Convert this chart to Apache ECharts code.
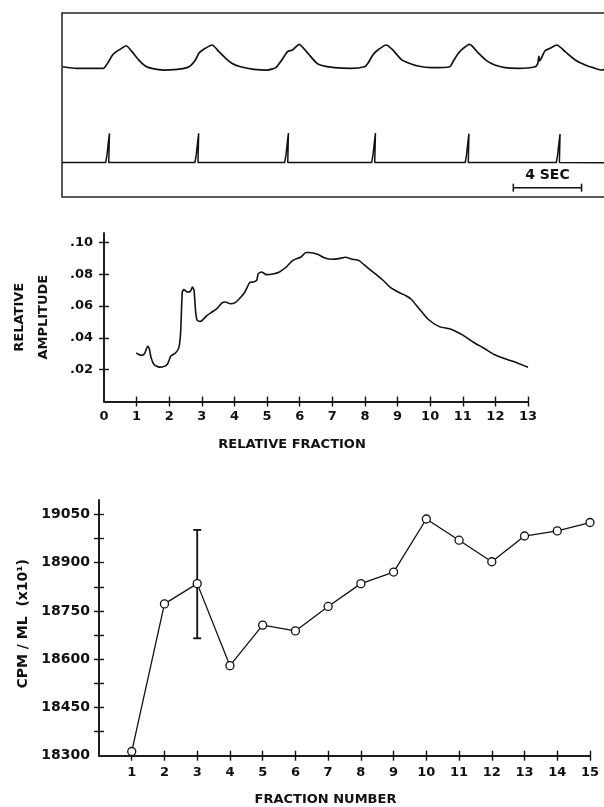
<!DOCTYPE html>
<html>
<head>
<meta charset="utf-8">
<script src="https://cdn.jsdelivr.net/npm/echarts@6/dist/echarts.min.js"></script>
<style>
  html, body { margin: 0; padding: 0; background: #fff; }
  #chart { width: 604px; height: 807px; }
</style>
</head>
<body>
<div id="chart"></div>
<script>
// ---- data ----

// top panel: recorder traces, x in seconds, y in chart-percent of the box
const upperTrace = [
  [0.04, 70.8], [0.86, 69.9], [2.43, 69.9], [2.53, 70.8], [2.73, 73.6], [2.92, 76.6], [3.12, 78.6],
  [3.41, 80.3], [3.76, 82.2], [4.10, 79.0], [4.49, 74.5], [4.88, 71.2], [5.27, 69.9], [5.96, 69.0],
  [6.75, 69.4], [7.33, 70.3], [7.57, 71.7], [7.82, 74.5], [8.02, 78.1], [8.31, 80.3], [8.80, 82.6],
  [9.20, 79.0], [9.59, 75.4], [9.98, 72.6], [10.47, 70.8], [11.25, 69.4], [12.04, 69.0], [12.53, 70.3],
  [12.82, 73.6], [13.22, 79.0], [13.51, 79.9], [13.90, 83.0], [14.39, 78.3], [14.88, 73.2], [15.18, 71.6],
  [15.96, 70.3], [16.94, 69.9], [17.73, 70.8], [17.92, 72.6], [18.22, 77.2], [18.51, 79.9], [19.00, 82.6],
  [19.39, 79.9], [19.88, 74.8], [20.27, 73.0], [20.86, 71.2], [21.65, 70.3], [22.73, 70.8], [22.92, 73.6],
  [23.12, 76.6], [23.41, 79.9], [23.90, 83.0], [24.39, 78.3], [24.88, 74.1], [25.37, 71.7], [25.96, 70.3],
  [26.75, 69.9], [27.73, 70.8], [27.88, 72.5], [27.95, 76.5], [28.00, 74.0], [28.31, 79.5], [28.61, 80.8],
  [29.00, 82.6], [29.49, 79.0], [30.08, 74.5], [30.67, 71.7], [31.25, 69.9], [31.65, 69.0], [31.88, 69.9]
];

const pulseTrace = [
  [0, 18.7],
  [2.56, 18.7], [2.64, 23], [2.72, 30], [2.78, 34.6], [2.74, 18.7],
  [7.79, 18.7], [7.87, 23], [7.95, 30], [8.01, 34.6], [7.97, 18.7],
  [13.05, 18.7], [13.13, 23], [13.21, 30], [13.27, 34.8], [13.23, 18.7],
  [18.15, 18.7], [18.23, 23], [18.31, 30], [18.37, 34.8], [18.33, 18.7],
  [23.63, 18.7], [23.71, 23], [23.79, 30], [23.85, 34.4], [23.81, 18.7],
  [28.97, 18.7], [29.05, 23], [29.13, 30], [29.19, 34.2], [29.15, 18.7],
  [32, 18.6]
];

// 4 sec scale bar: [from, to, level]
const scaleBar = [[26.45, 30.45, 5.05]];
const scaleBarLabel = '4 SEC';

// middle panel: relative amplitude vs relative fraction
const amplitude = [
  [0.99, 0.0305], [1.14, 0.029], [1.24, 0.030], [1.34, 0.0347], [1.39, 0.033], [1.44, 0.0279],
  [1.54, 0.0231], [1.70, 0.0216], [1.85, 0.0221], [1.95, 0.0237], [2.05, 0.0286], [2.20, 0.0307],
  [2.30, 0.0342], [2.35, 0.0437], [2.40, 0.0689], [2.45, 0.0704], [2.55, 0.0689], [2.65, 0.0693],
  [2.71, 0.0720], [2.76, 0.0700], [2.81, 0.0563], [2.86, 0.0510], [2.96, 0.0504], [3.16, 0.0542],
  [3.31, 0.0563], [3.46, 0.0584], [3.62, 0.0620], [3.72, 0.0626], [3.87, 0.0615], [4.02, 0.0622],
  [4.17, 0.0651], [4.32, 0.0689], [4.47, 0.0748], [4.58, 0.0752], [4.68, 0.0762], [4.73, 0.0804],
  [4.83, 0.0815], [4.98, 0.0798], [5.18, 0.0802], [5.38, 0.0815], [5.59, 0.0846], [5.79, 0.0888],
  [6.04, 0.0909], [6.19, 0.0937], [6.29, 0.0937], [6.55, 0.0926], [6.75, 0.0905], [7.00, 0.0895],
  [7.20, 0.0899], [7.40, 0.0907], [7.61, 0.0895], [7.81, 0.0888], [8.06, 0.0846], [8.31, 0.0804],
  [8.52, 0.0769], [8.77, 0.0720], [9.02, 0.0689], [9.27, 0.0664], [9.42, 0.0643], [9.63, 0.0592],
  [9.93, 0.0519], [10.28, 0.0471], [10.64, 0.0455], [10.99, 0.0419], [11.34, 0.0371], [11.65, 0.0335],
  [11.95, 0.0297], [12.25, 0.0272], [12.56, 0.0251], [13.00, 0.0215]
];
const ampTicks = [0.02, 0.04, 0.06, 0.08, 0.10];
const fracTicks = [1, 2, 3, 4, 5, 6, 7, 8, 9, 10, 11, 12, 13];
const fracLabels = [0, 1, 2, 3, 4, 5, 6, 7, 8, 9, 10, 11, 12, 13];

// bottom panel: CPM/ML per fraction
const fractions = [1, 2, 3, 4, 5, 6, 7, 8, 9, 10, 11, 12, 13, 14, 15];
const cpm = [18313, 18772, 18835, 18580, 18706, 18688, 18764, 18835, 18871, 19036, 18970, 18903, 18983, 18999, 19025];
// error bar on fraction 3: [fraction, low, high]
const errBars = [[3, 18665, 19002]];
const cpmLabels = [18300, 18450, 18600, 18750, 18900, 19050];
const cpmTicks = [18375, 18450, 18525, 18600, 18675, 18750, 18825, 18900, 18975, 19050];

// ---- chart ----
const INK = '#111';
const FONT = 'DejaVu Sans';

const chart = echarts.init(document.getElementById('chart'));

// twin axis that only carries the inner half of the crossing ticks
// (ticks vanish when its axisLine is off, so the line is drawn on top of the main one)
function tickAxis(extra, ticks) {
  return Object.assign({
    type: 'value',
    axisLine: { show: true, onZero: false, lineStyle: { color: INK, width: 1.5 } },
    axisLabel: { show: false },
    splitLine: { show: false },
    axisTick: { show: true, inside: true, length: 5, customValues: ticks, lineStyle: { color: INK, width: 1.4 } }
  }, extra);
}

const nameStyle = { fontFamily: FONT, fontWeight: 'bold', fontSize: 13, color: INK };
const labelStyle = { fontFamily: FONT, fontWeight: 'bold', fontSize: 13, color: INK };

const option = {
  animation: false,
  backgroundColor: '#fff',
  grid: [
    // the recorder box runs off the right edge of the page
    { left: 62, top: 13, width: 546, height: 184, show: true, borderColor: '#222', borderWidth: 1.5, outerBoundsMode: 'none' },
    { left: 99, top: 233, width: 429, height: 168.5 },
    { left: 99, top: 500, width: 491, height: 255.7 }
  ],
  xAxis: [
    { gridIndex: 0, type: 'value', min: 0, max: 32, show: false },
    {
      gridIndex: 1, type: 'value', min: 0, max: 13, position: 'bottom',
      axisLine: { show: true, onZero: false, lineStyle: { color: INK, width: 1.5 } },
      axisTick: { show: true, length: 5, customValues: fracTicks, lineStyle: { color: INK, width: 1.4 } },
      axisLabel: Object.assign({ customValues: fracLabels, margin: 9 }, labelStyle),
      splitLine: { show: false },
      name: 'RELATIVE FRACTION', nameLocation: 'middle', nameGap: 37,
      nameTextStyle: Object.assign({ padding: [0, 48, 0, 0] }, nameStyle)
    },
    tickAxis({ gridIndex: 1, min: 0, max: 13, position: 'bottom' }, fracTicks),
    {
      gridIndex: 2, type: 'value', min: 0, max: 15, position: 'bottom',
      axisLine: { show: true, onZero: false, lineStyle: { color: INK, width: 1.5 } },
      axisTick: { show: true, length: 5, customValues: fractions, lineStyle: { color: INK, width: 1.4 } },
      axisLabel: Object.assign({ customValues: fractions, margin: 10 }, labelStyle),
      splitLine: { show: false },
      name: 'FRACTION NUMBER', nameLocation: 'middle', nameGap: 37,
      nameTextStyle: Object.assign({ padding: [0, 38, 0, 0] }, nameStyle)
    },
    tickAxis({ gridIndex: 2, min: 0, max: 15, position: 'bottom' }, fractions)
  ],
  yAxis: [
    { gridIndex: 0, type: 'value', min: 0, max: 100, show: false },
    {
      gridIndex: 1, type: 'value', min: 0, max: 0.106, position: 'left',
      axisLine: { show: true, onZero: false, lineStyle: { color: INK, width: 1.5 } },
      axisTick: { show: true, length: 5, customValues: ampTicks, lineStyle: { color: INK, width: 1.4 } },
      axisLabel: Object.assign({ customValues: ampTicks, margin: 11, formatter: v => v.toFixed(2).replace(/^0/, '') }, labelStyle),
      splitLine: { show: false },
      name: 'RELATIVE\nAMPLITUDE', nameLocation: 'middle', nameRotate: 90, nameGap: 48,
      nameTextStyle: Object.assign({ lineHeight: 24 }, nameStyle)
    },
    tickAxis({ gridIndex: 1, min: 0, max: 0.106, position: 'left' }, ampTicks),
    {
      gridIndex: 2, type: 'value', min: 18300, max: 19095, position: 'left',
      axisLine: { show: true, onZero: false, lineStyle: { color: INK, width: 1.5 } },
      axisTick: { show: true, length: 5, customValues: cpmTicks, lineStyle: { color: INK, width: 1.4 } },
      axisLabel: Object.assign({ customValues: cpmLabels, margin: 9, formatter: v => String(v) }, labelStyle, { fontSize: 14 }),
      splitLine: { show: false },
      name: 'CPM / ML  (x10¹)', nameLocation: 'middle', nameRotate: 90, nameGap: 64,
      nameTextStyle: Object.assign({ padding: [0, 0, 0, 8] }, nameStyle, { fontSize: 14 })
    },
    tickAxis({ gridIndex: 2, min: 18300, max: 19095, position: 'left' }, cpmTicks)
  ],
  series: [
    {
      type: 'line', xAxisIndex: 0, yAxisIndex: 0, data: upperTrace,
      showSymbol: false, smooth: 0.2, lineStyle: { color: INK, width: 1.7 }
    },
    {
      type: 'line', xAxisIndex: 0, yAxisIndex: 0, data: pulseTrace,
      showSymbol: false, lineStyle: { color: INK, width: 1.5 }
    },
    {
      // 4 SEC scale bar
      type: 'custom', xAxisIndex: 0, yAxisIndex: 0, data: scaleBar,
      encode: { x: [0, 1], y: 2 },
      renderItem(params, api) {
        const a = api.coord([api.value(0), api.value(2)]);
        const b = api.coord([api.value(1), api.value(2)]);
        const st = { stroke: INK, lineWidth: 1.5 };
        return {
          type: 'group',
          children: [
            { type: 'line', shape: { x1: a[0], y1: a[1], x2: b[0], y2: b[1] }, style: st },
            { type: 'line', shape: { x1: a[0], y1: a[1] - 4, x2: a[0], y2: a[1] + 4 }, style: st },
            { type: 'line', shape: { x1: b[0], y1: b[1] - 4, x2: b[0], y2: b[1] + 4 }, style: st },
            {
              type: 'text',
              style: {
                text: scaleBarLabel, x: (a[0] + b[0]) / 2, y: a[1] - 12,
                align: 'center', verticalAlign: 'middle',
                font: 'bold 14px "' + FONT + '"', fill: INK
              }
            }
          ]
        };
      }
    },
    {
      type: 'line', xAxisIndex: 1, yAxisIndex: 1, data: amplitude,
      showSymbol: false, smooth: 0.2, lineStyle: { color: INK, width: 1.6 }
    },
    {
      // error bar
      type: 'custom', xAxisIndex: 3, yAxisIndex: 3, data: errBars, z: 1,
      encode: { x: 0, y: [1, 2] },
      renderItem(params, api) {
        const lo = api.coord([api.value(0), api.value(1)]);
        const hi = api.coord([api.value(0), api.value(2)]);
        const st = { stroke: INK, lineWidth: 1.8 };
        return {
          type: 'group',
          children: [
            { type: 'line', shape: { x1: lo[0], y1: lo[1], x2: hi[0], y2: hi[1] }, style: st },
            { type: 'line', shape: { x1: lo[0] - 4, y1: lo[1], x2: lo[0] + 4, y2: lo[1] }, style: st },
            { type: 'line', shape: { x1: hi[0] - 4, y1: hi[1], x2: hi[0] + 4, y2: hi[1] }, style: st }
          ]
        };
      }
    },
    {
      type: 'line', xAxisIndex: 3, yAxisIndex: 3, z: 3,
      data: fractions.map((f, i) => [f, cpm[i]]),
      symbol: 'circle', symbolSize: 8, showSymbol: true,
      itemStyle: { color: '#fff', borderColor: INK, borderWidth: 1.3 },
      lineStyle: { color: INK, width: 1.3 }
    }
  ]
};

chart.setOption(option);
</script>
</body>
</html>
